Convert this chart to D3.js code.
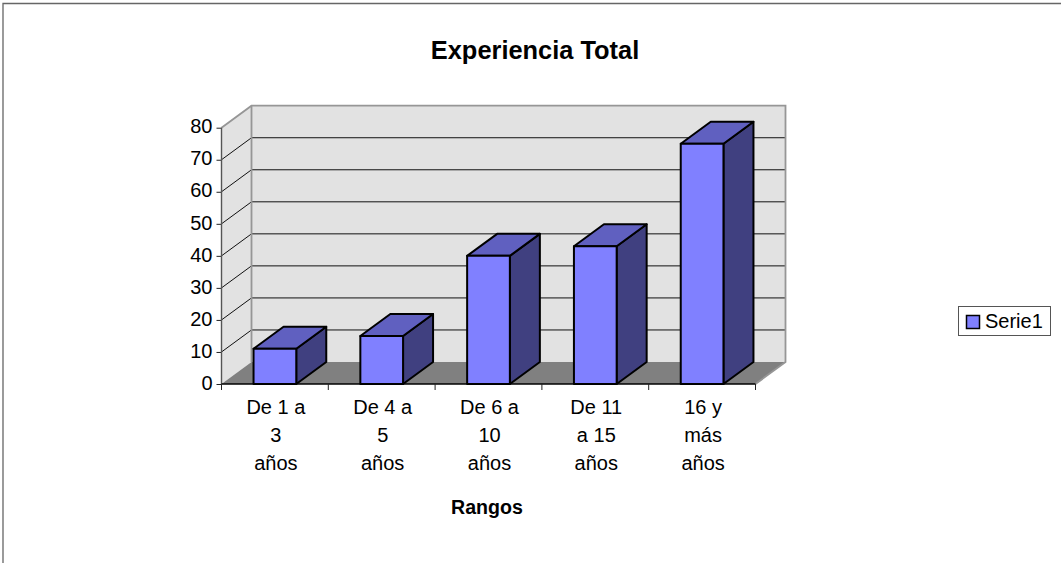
<!DOCTYPE html>
<html>
<head>
<meta charset="utf-8">
<style>
  html, body { margin: 0; padding: 0; background: #fff; overflow: hidden; }
  text { font-family: "Liberation Sans", Arial, sans-serif; fill: #000; }
  .axis text { font-size: 20px; }
  .axis path { display: none; }
</style>
<script src="https://cdn.jsdelivr.net/npm/d3@7/dist/d3.min.js"></script>
</head>
<body>
<svg id="chart" width="1061" height="563" style="display:block"></svg>
<script>
const categories = ["De 1 a 3 años", "De 4 a 5 años", "De 6 a 10 años", "De 11 a 15 años", "16 y más años"]
const categoryLines = [
  ["De 1 a", "3", "años"],
  ["De 4 a", "5", "años"],
  ["De 6 a", "10", "años"],
  ["De 11", "a 15", "años"],
  ["16 y", "más", "años"],
]
const values = [11, 15, 40, 43, 75]
const yTicks = [0, 10, 20, 30, 40, 50, 60, 70, 80]
const chartTitle = "Experiencia Total"
const xTitle = "Rangos"
const seriesName = "Serie1"

// zone du tracé (plan avant) + décalage de la profondeur 3D
const plotLeft = 221.5, plotRight = 755.5, plotBottom = 384, plotTop = 127.7
const depthX = 30, depthY = -22

const colors = {
  front: "#8080ff", topFace: "#6060c0", side: "#404080",
  wall: "#e2e2e2", floor: "#808080", wallEdge: "#969696",
}

const svg = d3.select("#chart")
const x = d3.scaleBand().domain(categories).range([plotLeft, plotRight]).paddingInner(0.6).paddingOuter(0.3)
const y = d3.scaleLinear().domain([0, 80]).range([plotBottom, plotTop])

const poly = (pts) => pts.map((p) => p.join(",")).join(" ")

// Cadre de la figure
svg.append("path")
  .attr("d", "M3,563V3.5H1061")
  .attr("fill", "none").attr("stroke", "#666").attr("stroke-width", 1.3)

svg.append("text")
  .attr("x", 535).attr("y", 59)
  .attr("text-anchor", "middle").attr("font-size", 25.4).attr("font-weight", 700)
  .text(chartTitle)

// Mur du fond, mur gauche, sol
svg.append("polygon")
  .attr("points", poly([[plotLeft + depthX, plotTop + depthY], [plotRight + depthX, plotTop + depthY], [plotRight + depthX, plotBottom + depthY], [plotLeft + depthX, plotBottom + depthY]]))
  .attr("fill", colors.wall)
svg.append("polygon")
  .attr("points", poly([[plotLeft, plotTop], [plotLeft + depthX, plotTop + depthY], [plotLeft + depthX, plotBottom + depthY], [plotLeft, plotBottom]]))
  .attr("fill", colors.wall)
svg.append("polygon")
  .attr("points", poly([[plotLeft, plotBottom], [plotLeft + depthX, plotBottom + depthY], [plotRight + depthX, plotBottom + depthY], [plotRight, plotBottom]]))
  .attr("fill", colors.floor)

// Grille : segment sur le mur gauche + segment sur le mur du fond
const grid = svg.append("g").attr("fill", "none").attr("stroke", "#111").attr("stroke-width", 1)
yTicks.filter((v) => v > 0 && v < 80).forEach((v) => {
  grid.append("path")
    .attr("d", `M${plotLeft},${y(v)}L${plotLeft + depthX},${y(v) + depthY}H${plotRight + depthX}`)
})

// Arêtes des murs
svg.append("path")
  .attr("d", `M${plotLeft},${plotTop}L${plotLeft + depthX},${plotTop + depthY}H${plotRight + depthX}V${plotBottom + depthY}L${plotRight},${plotBottom}`)
  .attr("fill", "none").attr("stroke", colors.wallEdge).attr("stroke-width", 1.8)
svg.append("path")
  .attr("d", `M${plotLeft + depthX},${plotTop + depthY}V${plotBottom + depthY}`)
  .attr("fill", "none").attr("stroke", colors.wallEdge).attr("stroke-width", 1.8)

// Axes
const yAxis = svg.append("g").attr("class", "axis")
  .attr("transform", `translate(${plotLeft},0)`)
  .call(d3.axisLeft(y).tickValues(yTicks).tickSize(5).tickPadding(4))
yAxis.selectAll("line").attr("stroke", "#222")
yAxis.selectAll("text").attr("dy", "0.26em")
svg.append("path").attr("d", `M${plotLeft},${plotTop}V${plotBottom}`).attr("stroke", "#555").attr("stroke-width", 1.4)

const xTickPos = d3.range(categories.length + 1).map((i) => plotLeft + i * x.step())
svg.append("path")
  .attr("d", `M${plotLeft},${plotBottom}H${plotRight}`).attr("stroke", "#000").attr("stroke-width", 1.3)
svg.selectAll("line.xtick")
  .data(xTickPos)
  .join("line")
  .attr("class", "xtick")
  .attr("x1", (d) => d).attr("x2", (d) => d)
  .attr("y1", plotBottom).attr("y2", plotBottom + 6)
  .attr("stroke", "#222")

// Barres 3D
const bars = svg.selectAll("g.bar")
  .data(categories.map((c, i) => ({ c, v: values[i] })))
  .join("g")
  .attr("class", "bar")
  .attr("stroke", "#000").attr("stroke-width", 2).attr("stroke-linejoin", "round")

bars.append("polygon")
  .attr("fill", colors.side)
  .attr("points", (d) => {
    const x1 = x(d.c) + x.bandwidth(), yT = y(d.v)
    return poly([[x1, yT], [x1 + depthX, yT + depthY], [x1 + depthX, plotBottom + depthY], [x1, plotBottom]])
  })
bars.append("polygon")
  .attr("fill", colors.topFace)
  .attr("points", (d) => {
    const x0 = x(d.c), x1 = x0 + x.bandwidth(), yT = y(d.v)
    return poly([[x0, yT], [x0 + depthX, yT + depthY], [x1 + depthX, yT + depthY], [x1, yT]])
  })
bars.append("rect")
  .attr("fill", colors.front)
  .attr("x", (d) => x(d.c))
  .attr("y", (d) => y(d.v))
  .attr("width", x.bandwidth())
  .attr("height", (d) => plotBottom - y(d.v))

// Libellés de catégories sur trois lignes
categoryLines.forEach((lines, i) => {
  svg.append("text")
    .attr("text-anchor", "middle").attr("font-size", 20)
    .selectAll("tspan")
    .data(lines)
    .join("tspan")
    .attr("x", x(categories[i]) + x.bandwidth() / 2 + 1)
    .attr("y", (_, k) => 414 + k * 28)
    .text((d) => d)
})

svg.append("text")
  .attr("x", 487).attr("y", 514)
  .attr("text-anchor", "middle").attr("font-size", 19.6).attr("font-weight", 700)
  .text(xTitle)

// Légende
const legend = svg.append("g").attr("transform", "translate(958.5,306.5)")
legend.append("rect")
  .attr("width", 92).attr("height", 29)
  .attr("fill", "#fff").attr("stroke", "#555").attr("stroke-width", 1)
legend.append("rect")
  .attr("x", 8).attr("y", 9).attr("width", 13).attr("height", 13)
  .attr("fill", colors.front).attr("stroke", "#000").attr("stroke-width", 1.5)
legend.append("text")
  .attr("x", 26.5).attr("y", 21.5).attr("font-size", 20)
  .text(seriesName)
</script>
</body>
</html>
